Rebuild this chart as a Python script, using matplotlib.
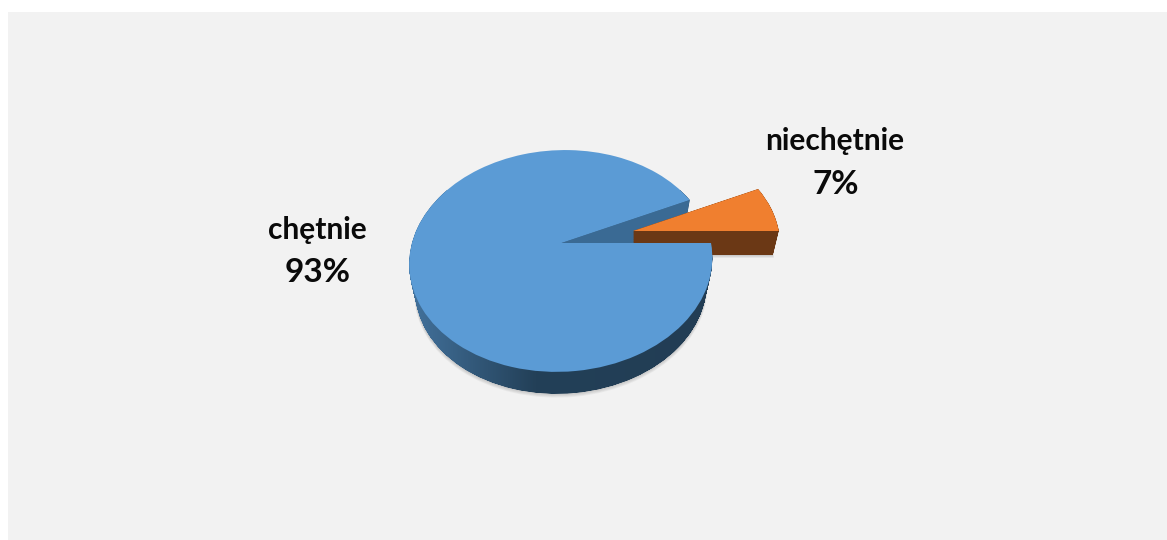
import numpy as np
import matplotlib
matplotlib.use('Agg')
import matplotlib.pyplot as plt
from matplotlib.colors import LinearSegmentedColormap
from matplotlib.patches import PathPatch, Polygon, Rectangle
from matplotlib.path import Path
from matplotlib.transforms import Affine2D, Transform

categories = ['niechętnie', 'chętnie']
values = [7, 93]


# rzut perspektywiczny - dysk ogląda się z góry, pod kątem
class Perspektywa(Transform):
    input_dims = 2
    output_dims = 2
    k = 0.162

    def transform_non_affine(self, v):
        v = np.asarray(v, dtype=float)
        w = 1 + self.k * v[:, 1]
        return np.column_stack([v[:, 0] / w, v[:, 1] / w])

    def inverted(self):
        raise NotImplementedError


def warstwa(cx, cy, glebokosc, skala):
    # przejście z koła jednostkowego na piksele obrazka
    return Perspektywa() + (Affine2D().scale(149.5 * skala, 108 * skala).skew(0.04, 0)
                            .scale(1, -1).translate(cx, cy + glebokosc))


def bryla(sciezka, cx, cy, glebokosc, skala0=1.0, kroki=60):
    czesci = []
    for t in np.linspace(0, 1, kroki):
        tr = warstwa(cx, cy, glebokosc * t, skala0 * (1 - 0.04 * t))
        czesci.append(tr.transform_path(sciezka))
    return Path.make_compound_path(*czesci)


fig = plt.figure(figsize=(11.67, 5.4), dpi=100, facecolor='white')
ax = fig.add_axes([0, 0, 1, 1])

wedges, _ = ax.pie(values, startangle=0, counterclock=True, frame=False,
                   colors=['#f07f2f', '#5b9bd5'], wedgeprops={'linewidth': 0})
ax.set_aspect('auto')
ax.set_xlim(0, 1167)
ax.set_ylim(540, 0)
ax.axis('off')

ax.add_patch(Rectangle((8, 12), 1159, 528, facecolor='#f2f2f2', edgecolor='none', zorder=0))

pomar, nieb = wedges
# środki: niebieski wycinek i wysunięty pomarańczowy
cx_n, cy_n = 561.5, 243
cx_p, cy_p = 633, 231
skala_p = 0.975

# cień pod spodem
for grow in [5, 4, 3, 2, 1]:
    for w, cx, cy, d, s0 in [(nieb, cx_n, cy_n, 27, 1.0), (pomar, cx_p, cy_p, 24, skala_p)]:
        tr = warstwa(cx, cy, d + grow * 0.6, s0 * (0.96 + grow * 0.0015))
        ax.add_patch(PathPatch(tr.transform_path(w.get_path()), facecolor='black',
                               edgecolor='none', alpha=0.035, zorder=1))

# boczna ściana niebieskiego - przejście kolorów od lewej
cmap = LinearSegmentedColormap.from_list('bok', [(0, '#44749f'), (0.42, '#234058'), (1, '#223d54')])
im = ax.imshow(np.linspace(0, 1, 256)[None, :], cmap=cmap, aspect='auto',
               extent=(405, 715, 400, 190), zorder=2)
im.set_clip_path(bryla(nieb.get_path(), cx_n, cy_n, 27), ax.transData)
ax.set_xlim(0, 1167)
ax.set_ylim(540, 0)

# wewnętrzna ściana przy wycięciu
kat = np.deg2rad(values[0] / sum(values) * 360)
krawedz = np.array([[0, 0], [np.cos(kat), np.sin(kat)]])
gora = warstwa(cx_n, cy_n, 0, 1).transform(krawedz)
dol = warstwa(cx_n, cy_n, 27, 0.96).transform(krawedz)
ax.add_patch(Polygon(np.vstack([gora, dol[::-1]]), closed=True, facecolor='#3a6a94',
                     edgecolor='none', zorder=3))

# pomarańczowy wycinek i jego bok
ax.add_patch(PathPatch(bryla(pomar.get_path(), cx_p, cy_p, 24, skala_p), facecolor='#6b3815',
                       edgecolor='none', zorder=4))
pomar.set_transform(warstwa(cx_p, cy_p, 0, skala_p) + ax.transData)
pomar.set_zorder(5)
nieb.set_transform(warstwa(cx_n, cy_n, 0, 1) + ax.transData)
nieb.set_zorder(6)

czcionka = ['Lato', 'DejaVu Sans']
ax.text(835, 141, categories[0], ha='center', va='center', fontsize=21.5, fontweight='bold',
        family=czcionka, color='#0a0a0a', zorder=7)
ax.text(836, 184, f'{values[0]}%', ha='center', va='center', fontsize=24, fontweight='bold',
        family=czcionka, color='#0a0a0a', zorder=7)
ax.text(317, 230, categories[1], ha='center', va='center', fontsize=21.5, fontweight='bold',
        family=czcionka, color='#0a0a0a', zorder=7)
ax.text(317.5, 273, f'{values[1]}%', ha='center', va='center', fontsize=24, fontweight='bold',
        family=czcionka, color='#0a0a0a', zorder=7)

fig.savefig('out.png', dpi=100, facecolor='white')
